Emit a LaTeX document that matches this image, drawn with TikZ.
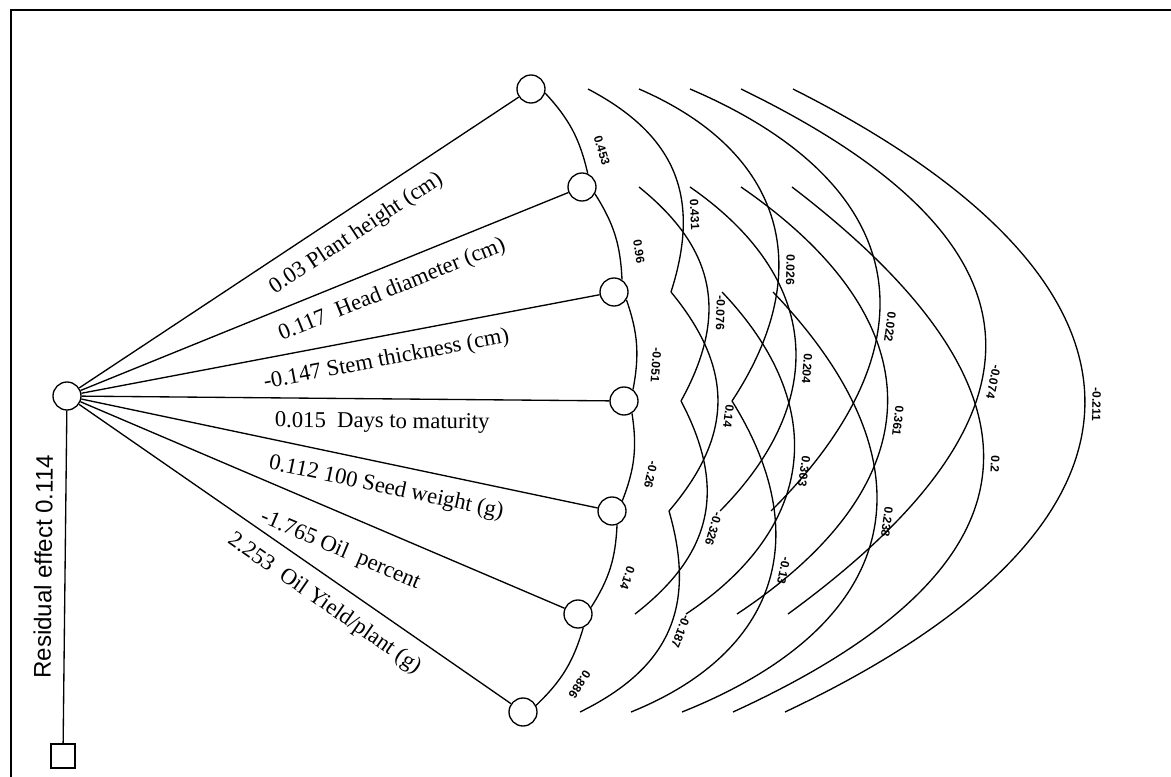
\documentclass[tikz,border=0pt]{standalone}
\usepackage{fontspec}
\setmainfont{Liberation Serif}
\setsansfont{Liberation Sans}
\usetikzlibrary{calc}

\begin{document}
\begin{tikzpicture}[x=0.75pt, y=-0.75pt,%
  trait/.style={draw, circle, minimum size=21pt, inner sep=0pt, line width=1pt},%
  resid/.style={draw, rectangle, minimum size=18pt, inner sep=0pt, line width=1pt},%
  spoke/.style={line width=1pt},%
  corr/.style={line width=1pt},%
  ring1/.style={bend left=15},%
  ring2/.style={bend left=40, looseness=1.16},%
  ring3/.style={bend left=50, looseness=1.24},%
  ring4/.style={bend left=56, looseness=1.43},%
  ring5/.style={bend left=59, looseness=1.67},%
  ring6/.style={bend left=64, looseness=1.8},%
  coef/.style={sloped, allow upside down, above=2.5pt, inner sep=2.5pt, font=\sffamily\bfseries\fontsize{9}{9}\selectfont},%
  near/.style={coef, above=6pt},%
  effect/.style={sloped, below=9pt, inner sep=1pt, font=\fontsize{17}{17}\selectfont}%
]
  \useasboundingbox (0,0) rectangle (1171,777);
  \draw[line width=1.5pt] (1171,10) -- (11,10) -- (11,777);
  % Nodos
  \node[trait] (c) at (67,396) {};
  \node[resid] (res) at (63,756) {};
  \node[trait] (n1) at (531,89) {};
  \node[trait] (n2) at (582,187) {};
  \node[trait] (n3) at (614,292) {};
  \node[trait] (n4) at (624,401) {};
  \node[trait] (n5) at (612,511) {};
  \node[trait] (n6) at (578,614) {};
  \node[trait] (n7) at (523,712) {};
  % Efectos directos
  \draw[spoke] (c) -- node[effect, pos=0.6] {0.03 Plant height (cm)} (n1);
  \draw[spoke] (c) -- node[effect, pos=0.62] {0.117\ \ Head diameter (cm)} (n2);
  \draw[spoke] (c) -- node[effect, pos=0.58] {-0.147 Stem thickness (cm)} (n3);
  \draw[spoke] (c) -- node[effect, pos=0.57] {0.015\ \ Days to maturity} (n4);
  \draw[spoke] (c) -- node[effect, pos=0.6] {0.112 100 Seed weight (g)} (n5);
  \draw[spoke] (c) -- node[effect, pos=0.565, below=8pt] {-1.765 Oil\ \ percent} (n6);
  \draw[spoke] (c) -- node[effect, pos=0.6] {2.253\ \ Oil Yield/plant (g)} (n7);
  \draw[spoke] (res) -- node[pos=0.53, sloped, above=6pt, font=\sffamily\fontsize{18}{18}\selectfont] {Residual effect 0.114} (c);
  % Anclas de los arcos
  \coordinate (r2n1) at ($(n1)+(57,0)$); \coordinate (r2n2) at ($(n2)+(57,0)$);
  \coordinate (r2n3) at ($(n3)+(57,0)$); \coordinate (r2n4) at ($(n4)+(57,0)$);
  \coordinate (r2n5) at ($(n5)+(57,0)$); \coordinate (r2n6) at ($(n6)+(57,0)$);
  \coordinate (r2n7) at ($(n7)+(57,0)$);
  \coordinate (r3n1) at ($(n1)+(108,0)$); \coordinate (r3n2) at ($(n2)+(108,0)$);
  \coordinate (r3n3) at ($(n3)+(108,0)$); \coordinate (r3n4) at ($(n4)+(108,0)$);
  \coordinate (r3n5) at ($(n5)+(108,0)$); \coordinate (r3n6) at ($(n6)+(108,0)$);
  \coordinate (r3n7) at ($(n7)+(108,0)$);
  \coordinate (r4n1) at ($(n1)+(159,0)$); \coordinate (r4n2) at ($(n2)+(159,0)$);
  \coordinate (r4n3) at ($(n3)+(159,0)$); \coordinate (r4n5) at ($(n5)+(159,0)$);
  \coordinate (r4n6) at ($(n6)+(159,0)$); \coordinate (r4n7) at ($(n7)+(159,0)$);
  \coordinate (r5n1) at ($(n1)+(210,0)$); \coordinate (r5n2) at ($(n2)+(210,0)$);
  \coordinate (r5n6) at ($(n6)+(210,0)$); \coordinate (r5n7) at ($(n7)+(210,0)$);
  \coordinate (r6n1) at ($(n1)+(262,0)$); \coordinate (r6n7) at ($(n7)+(262,0)$);
  % Correlaciones vecinas
  \draw[corr] (n1.-16) to[ring1] node[near, pos=0.82] {0.453} (n2.67);
  \draw[corr] (n2.-28) to[ring1] node[near, pos=0.74] {0.96} (n3.57);
  \draw[corr] (n3.-32) to[ring1] node[near, pos=0.73] {-0.051} (n4.52);
  \draw[corr] (n4.-57) to[ring1] node[near, pos=0.66] {-0.26} (n5.45);
  \draw[corr] (n5.-70) to[ring1] node[near, pos=0.55] {0.14} (n6.27);
  \draw[corr] (n6.-69) to[ring1] node[near, pos=0.55] {0.886} (n7.27);
  % Segundo anillo
  \draw[corr] (r2n1) to[ring2] node[coef, pos=0.7] {0.431} (r2n3);
  \draw[corr] (r2n2) to[ring2] node[coef, pos=0.63] {-0.076} (r2n4);
  \draw[corr] (r2n3) to[ring2] node[coef, pos=0.56] {0.14} (r2n5);
  \draw[corr] (r2n4) to[ring2] node[coef, pos=0.54] {-0.326} (r2n6);
  \draw[corr] (r2n5) to[ring2] node[coef, pos=0.48] {-0.187} (r2n7);
  % Tercer anillo
  \draw[corr] (r3n1) to[ring3] node[coef, pos=0.65] {0.026} (r3n4);
  \draw[corr] (r3n2) to[ring3] node[coef, pos=0.58] {0.204} (r3n5);
  \draw[corr] (r3n3) to[ring3] node[coef, pos=0.52] {0.303} (r3n6);
  \draw[corr] (r3n4) to[ring3] node[coef, pos=0.45] {-0.13} (r3n7);
  % Cuarto anillo
  \draw[corr] (r4n1) to[ring4] node[coef, pos=0.62] {0.022} (r4n5);
  \draw[corr] (r4n2) to[ring4] node[coef, pos=0.54] {0.361} (r4n6);
  \draw[corr] (r4n3) to[ring4] node[coef, pos=0.47] {0.238} (r4n7);
  % Anillos exteriores
  \draw[corr] (r5n1) to[ring5] node[coef, pos=0.59] {-0.074} (r5n6);
  \draw[corr] (r5n2) to[ring5] node[coef, pos=0.48] {0.2} (r5n7);
  \draw[corr] (r6n1) to[ring6] node[coef, pos=0.5] {-0.211} (r6n7);
\end{tikzpicture}
\end{document}
